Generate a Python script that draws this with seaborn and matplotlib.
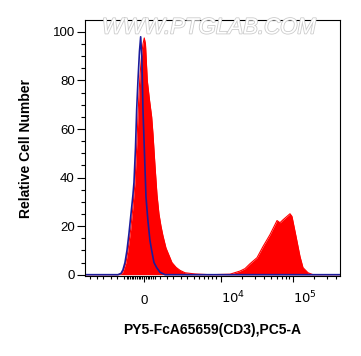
import matplotlib
matplotlib.use("Agg")
import matplotlib.pyplot as plt
import matplotlib.patheffects as pe
import numpy as np
import pandas as pd
import seaborn as sns

# fluorescence intensity (PC5-A) vs relative cell number
ctrl_x = [-5530, -1600, -1381, -1244, -1109, -981, -856, -735, -617, -559,
          -473, -405, -332, -248, -182, -121, -55, 27, 110, 220, 332, 427,
          559, 717, 918, 1244, 453000]
ctrl_y = [0, 0, 0.5, 2, 5, 10, 17, 25, 33, 38,
          52, 68, 80, 92, 98, 90, 68, 50, 32, 22, 14, 10,
          5, 2.9, 1, 0, 0]

cd3_x = [-5530, -1600, -1381, -1244, -1044, -918, -753, -617, -501, -388,
         -304, -220, -137, -55, 16, 82, 182, 304, 427, 501, 617, 735, 856,
         981, 1109, 1311, 1525, 1751, 2094, 2445, 2957, 4227, 6990, 13380,
         18470, 21680, 25430, 31870, 38620, 48280, 60470, 66490, 73190,
         91570, 97580, 111000, 126100, 138800, 162900, 191200, 453000]
cd3_y = [0, 0, 0.4, 1.2, 5, 10, 18.5, 28, 38, 55,
         70, 82, 90, 95, 97.5, 95, 80, 72, 65, 58, 45, 33, 25,
         20, 16, 11, 8, 5, 3, 1.8, 0.8, 0.3, 0, 0.2,
         1.5, 2.5, 4.5, 7, 11.6, 16.5, 22.3, 21.4, 22.6,
         25.1, 24, 15.8, 7.5, 2.9, 0.8, 0, 0]

x_major = [0, 1e4, 1e5]
x_major_labels = ["0", "$10^4$", "$10^5$"]
x_minor = [-4700, -3700, -2900, -2200, -1650, -1175,
           -1000, -900, -800, -700, -600, -500, -400, -300, -200, -100,
           100, 200, 300, 400, 500, 600,
           920, 1380, 1840, 2520, 3190, 4070, 4830, 5720, 6540, 7450, 8410,
           2e4, 3e4, 4e4, 5e4, 6e4, 7e4, 8e4, 9e4, 2e5, 3e5, 4e5]
y_major = [0, 20, 40, 60, 80, 100]

ctrl = pd.DataFrame({"x": ctrl_x, "y": ctrl_y})
cd3 = pd.DataFrame({"x": cd3_x, "y": cd3_y})

sns.set_style("white")
plt.rcParams["font.family"] = ["Liberation Sans", "DejaVu Sans"]
plt.rcParams["text.color"] = "black"
plt.rcParams["axes.labelcolor"] = "black"

C = 1718.0
fwd = lambda v: np.arcsinh(np.asarray(v, dtype=float) / C)
inv = lambda u: C * np.sinh(np.asarray(u, dtype=float))

fig = plt.figure(figsize=(3.61, 3.56), dpi=100)
ax = fig.add_axes([0.2355, 0.2247, 0.7063, 0.7191])
ax.set_xscale("function", functions=(fwd, inv))

ax.fill_between(cd3["x"], 0, cd3["y"], color="#ff0000", lw=0)
sns.lineplot(data=cd3, x="x", y="y", ax=ax, color="#ff0000", lw=0.8,
             sort=False, estimator=None)
sns.lineplot(data=ctrl, x="x", y="y", ax=ax, color="#1c1c9c", lw=1.2,
             sort=False, estimator=None)

ax.set_xlim(-5530, 453000)
ax.set_ylim(-0.54, 104.9)

ax.set_xticks(x_major)
ax.set_xticklabels(x_major_labels)
ax.set_xticks(x_minor, minor=True)
ax.set_yticks(y_major)
ax.set_yticks(np.arange(5, 105, 5), minor=True)

ax.tick_params(axis="both", which="both", direction="out", colors="black",
               width=0.8, labelsize=9.5, bottom=True, left=True)
ax.tick_params(axis="y", which="major", length=5.8, pad=1.5)
ax.tick_params(axis="y", which="minor", length=3)
ax.tick_params(axis="x", which="major", length=4, pad=16)
ax.tick_params(axis="x", which="minor", length=2.3)
for i, lbl in enumerate(ax.get_xticklabels()):
    lbl.set_va("baseline")
    if i > 0:
        lbl.set_ha("left")

for s in ax.spines.values():
    s.set_color("black")
    s.set_linewidth(0.8)

ax.set_xlabel("PY5-FcA65659(CD3),PC5-A", fontsize=10, fontweight="bold")
ax.set_ylabel("Relative Cell Number", fontsize=10, fontweight="bold")
ax.xaxis.set_label_coords(0.5, -0.185)
ax.yaxis.set_label_coords(-0.205, 0.5)

fig.text(209 / 361, 1 - 28 / 356, "WWW.PTGLAB.COM", fontsize=16,
         fontstyle="italic", color="white", ha="center", va="center",
         path_effects=[pe.withStroke(linewidth=1.2, foreground="#cccccc")])

fig.savefig("out.png", dpi=100)
